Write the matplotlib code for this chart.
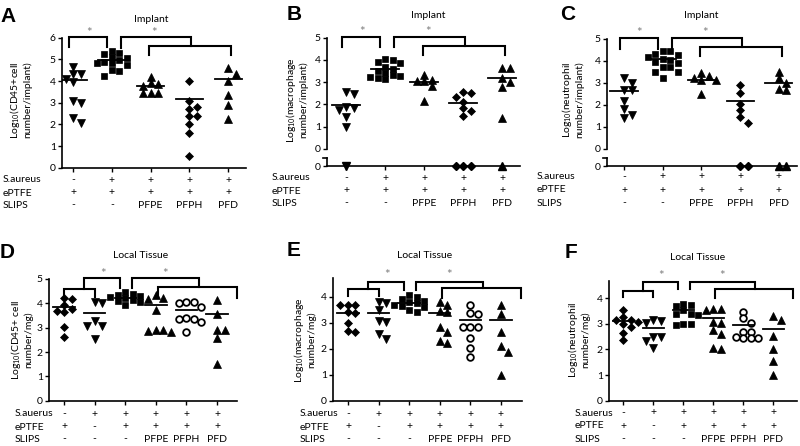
import matplotlib.pyplot as plt
from matplotlib.transforms import blended_transform_factory

plt.rcParams['font.family'] = ['Lato', 'DejaVu Sans']
plt.rcParams['mathtext.default'] = 'regular'

W, H = 800, 446
fig = plt.figure(figsize=(W / 100, H / 100), dpi=100)

# ---- data (log10 values) ----
a_vals = [[4.66, 4.32, 4.32, 4.08, 3.97, 3.09, 3.0, 2.28, 2.08],
          [5.4, 5.31, 5.25, 5.1, 5.05, 4.97, 4.9, 4.82, 4.82, 4.74, 4.51, 4.48, 4.25],
          [4.2, 3.89, 3.85, 3.77, 3.46, 3.46, 3.43],
          [4.0, 3.09, 2.82, 2.71, 2.38, 2.38, 2.02, 1.58, 0.54],
          [4.58, 4.31, 4.0, 3.35, 2.89, 2.23]]
a_line = [4.05, 4.97, 3.78, 3.15, 4.08]

b_vals = [[2.54, 2.46, 1.87, 1.83, 1.75, 1.42, 1.0],
          [4.03, 3.98, 3.92, 3.85, 3.7, 3.6, 3.5, 3.4, 3.33, 3.3, 3.25, 3.2, 3.13],
          [3.32, 3.1, 3.07, 3.05, 2.83, 2.17],
          [2.57, 2.5, 2.35, 2.13, 1.83, 1.71, 1.48],
          [3.62, 3.62, 3.17, 3.02, 2.8, 1.38]]
b_zero = [1, 0, 0, 3, 1]
b_line = [1.98, 3.6, 3.02, 2.05, 3.2]

c_vals = [[3.21, 2.98, 2.68, 2.68, 2.2, 1.82, 1.55, 1.39],
          [4.47, 4.45, 4.32, 4.25, 4.2, 4.1, 4.05, 3.94, 3.9, 3.71, 3.71, 3.48, 3.48, 3.21],
          [3.44, 3.3, 3.21, 3.14, 3.14, 2.5],
          [2.91, 2.53, 2.05, 1.77, 1.44, 1.2],
          [3.52, 3.24, 3.02, 2.71, 2.68]]
c_zero = [0, 0, 0, 2, 2]
c_line = [2.65, 4.08, 3.14, 2.18, 3.02]

d_vals = [[4.2, 4.16, 3.93, 3.75, 3.7, 3.66, 3.04, 2.63],
          [4.04, 4.0, 3.29, 3.07, 3.07, 2.52],
          [4.45, 4.4, 4.35, 4.3, 4.25, 4.2, 4.15, 4.1, 4.05, 3.95],
          [4.34, 4.2, 4.16, 3.73, 2.9, 2.9, 2.85, 2.84],
          [4.07, 4.07, 4.03, 3.84, 3.38, 3.34, 3.34, 3.25, 2.84],
          [4.14, 3.56, 2.9, 2.9, 2.56, 1.49]]
d_line = [3.86, 3.62, 4.22, 3.93, 3.73, 3.55]

e_vals = [[3.68, 3.68, 3.68, 3.42, 3.38, 2.97, 2.69, 2.65],
          [3.81, 3.74, 3.49, 3.08, 3.04, 2.56, 2.36],
          [4.05, 4.0, 3.9, 3.85, 3.8, 3.75, 3.7, 3.65, 3.6, 3.5, 3.4],
          [3.81, 3.68, 3.46, 3.42, 2.82, 2.65, 2.29, 2.21],
          [3.68, 3.38, 3.33, 2.82, 2.82, 2.82, 2.4, 2.01, 1.67],
          [3.68, 3.33, 2.65, 2.1, 1.88, 0.99]]
e_line = [3.38, 3.38, 3.74, 3.36, 3.1, 3.1]

f_vals = [[3.55, 3.26, 3.15, 3.13, 3.06, 3.0, 2.89, 2.63, 2.36],
          [3.16, 3.1, 3.02, 2.5, 2.47, 2.34, 2.05],
          [3.79, 3.72, 3.68, 3.55, 3.39, 3.39, 3.33, 3.0, 3.0, 2.97],
          [3.59, 3.59, 3.52, 3.06, 3.02, 2.76, 2.6, 2.05, 2.03],
          [3.46, 3.22, 3.02, 2.69, 2.67, 2.47, 2.43, 2.43, 2.43],
          [3.29, 3.13, 2.53, 2.01, 1.54, 0.99]]
f_line = [3.09, 2.83, 3.52, 3.22, 2.96, 2.8]

top_markers = ['v', 's', '^', 'D', '^']
bot_markers = ['D', 'v', 's', '^', 'o', '^']

top_rows = ['S.aureus', 'ePTFE', 'SLIPS']
top_cells = [['-', '+', '+', '+', '+'],
             ['+', '+', '+', '+', '+'],
             ['-', '-', 'PFPE', 'PFPH', 'PFD']]
bot_rows = ['S.auerus', 'ePTFE', 'SLIPS']
bot_cells = [['-', '+', '+', '+', '+', '+'],
             ['+', '-', '+', '+', '+', '+'],
             ['-', '-', '-', 'PFPE', 'PFPH', 'PFD']]

MS = {'v': 5.3, '^': 5.3, 's': 4.8, 'D': 4.2, 'o': 4.8}


def add_ax(x0, x1, ytop, ybot):
    return fig.add_axes([x0 / W, 1 - ybot / H, (x1 - x0) / W, (ybot - ytop) / H])


def style(ax, bottom=True):
    ax.patch.set_visible(False)
    ax.spines['top'].set_visible(False)
    ax.spines['right'].set_visible(False)
    ax.spines['left'].set_linewidth(1.2)
    ax.spines['bottom'].set_linewidth(1.2)
    ax.tick_params(length=3, width=1, labelsize=7.5, pad=1.5)
    if not bottom:
        ax.spines['bottom'].set_visible(False)
        ax.set_xticks([])


def swarm(vals, ax, w=7.5, hgt=6.0):
    pos = ax.get_position()
    y0, y1 = ax.get_ylim()
    x0, x1 = ax.get_xlim()
    ky = pos.height * H / (y1 - y0)
    kx = pos.width * W / (x1 - x0)
    order = sorted(range(len(vals)), key=lambda j: -vals[j])
    placed = []
    offs = [0.0] * len(vals)
    for j in order:
        y = vals[j] * ky
        for c in [0, 1, -1, 2, -2, 3, -3, 4, -4]:
            x = c * w
            if all(abs(x - px) >= w - 0.1 or abs(y - py) >= hgt for px, py in placed):
                break
        placed.append((x, y))
        offs[j] = x / kx
    return offs


def draw_points(ax, vals, lines, markers):
    for i, (v, m) in enumerate(zip(vals, markers)):
        offs = swarm(v, ax)
        face = 'white' if m == 'o' else 'black'
        ax.plot([i + o for o in offs], v, m, ls='none', ms=MS[m], mfc=face,
                mec='black', mew=1.3 if m == 'o' else 0.5, clip_on=False)
        ax.plot([i - 0.35, i + 0.35], [lines[i], lines[i]], color='black', lw=1.3)


def bracket(ax, xs, ys):
    ax.plot(xs, ys, color='black', lw=1.5, clip_on=False, solid_joinstyle='miter')


def star(ax, x, y):
    ax.text(x, y, '*', ha='center', va='center', fontsize=9.5, color='#808080')


def rows(ax, names, cells, lab_x, ys):
    tr = blended_transform_factory(ax.transData, fig.transFigure)
    for name, row, y in zip(names, cells, ys):
        fig.text(lab_x / W, 1 - y / H, name, ha='left', va='center', fontsize=7.5)
        for i, c in enumerate(row):
            ax.text(i, 1 - y / H, c, transform=tr, ha='center', va='center', fontsize=7.5)


def fig_text(x, y, s, **kw):
    fig.text(x / W, 1 - y / H, s, **kw)


# ---------------- Panel A ----------------
axA = add_ax(62, 246, 37.7, 167.7)
axA.set_ylim(0, 6)
axA.set_xlim(-0.284, 4.459)
style(axA)
axA.set_yticks(range(7))
axA.set_xticks(range(5))
axA.set_xticklabels([])
draw_points(axA, a_vals, a_line, top_markers)
bracket(axA, [-0.1, -0.1, 0.88, 0.88], [5.55, 6.03, 6.03, 5.55])
bracket(axA, [1.24, 1.24, 3.05, 3.05], [5.52, 6.03, 6.03, 5.63])
bracket(axA, [1.96, 1.96, 4.08, 4.08], [5.2, 5.63, 5.63, 5.2])
star(axA, 0.4, 6.22)
star(axA, 2.1, 6.22)
rows(axA, top_rows, top_cells, 3, [180, 193, 205])


# ---------------- Panels B, C (broken axis) ----------------
def broken(x0, x1, ytop, xlim, vals, zeros, lines, brk, lab_x, ys):
    up = add_ax(x0, x1, ytop, 149)
    up.set_ylim(0, 5)
    up.set_xlim(*xlim)
    style(up, bottom=False)
    up.set_yticks(range(6))
    lo = add_ax(x0, x1, 158, 166)
    lo.set_ylim(0, 1)
    lo.set_xlim(*xlim)
    style(lo)
    lo.set_yticks([0])
    lo.set_xticks(range(5))
    lo.set_xticklabels([])
    cap = 4 / (x1 - x0)
    lo.plot([-cap, 0], [1, 1], color='black', lw=1.2, transform=lo.transAxes, clip_on=False)
    draw_points(up, vals, lines, top_markers)
    for i, n in enumerate(zeros):
        if n:
            offs = swarm([0.0] * n, lo)
            m = top_markers[i]
            lo.plot([i + o for o in offs], [0] * n, m, ls='none', ms=MS[m], color='black', clip_on=False)
    top, leg, mid, low, st = brk
    bracket(up, [-0.1, -0.1, 0.88, 0.88], [leg, top, top, leg])
    bracket(up, [1.24, 1.24, 3.05, 3.05], [leg, top, top, mid])
    bracket(up, [1.96, 1.96, 4.08, 4.08], [low, mid, mid, low])
    star(up, 0.4, st)
    star(up, 2.1, st)
    rows(lo, top_rows, top_cells, lab_x, ys)


broken(327, 520, 37.7, (-0.49, 4.46), b_vals, b_zero, b_line,
       (5.02, 4.6, 4.64, 4.22, 5.25), 272, [178, 191, 203])
broken(607, 797, 39, (-0.44, 4.47), c_vals, c_zero, c_line,
       (5.03, 4.55, 4.62, 4.23, 5.27), 537, [177, 190, 203])


# ---------------- Panels D, E, F ----------------
def lower(x0, x1, ytop, ymax, xlim, vals, lines, brk, sx, lab_x, ys):
    ax = add_ax(x0, x1, ytop, 400.7)
    ax.set_ylim(0, ymax)
    ax.set_xlim(*xlim)
    style(ax)
    ax.set_yticks(range(int(ymax) + 1))
    ax.set_xticks(range(6))
    ax.set_xticklabels([])
    draw_points(ax, vals, lines, bot_markers)
    L0, L1, U, Ud, M, R0, st = brk
    bracket(ax, [0, 0, 1, 1], [L0, L1, L1, L0])
    bracket(ax, [0.66, 0.66, 1.84, 1.84], [L1, U, U, Ud])
    bracket(ax, [2.22, 2.22, 4.4, 4.4], [Ud, U, U, M])
    bracket(ax, [3.07, 3.07, 5.65, 5.65], [R0, M, M, R0])
    star(ax, sx[0], st)
    star(ax, sx[1], st)
    rows(ax, bot_rows, bot_cells, lab_x, ys)
    return ax


lower(49, 237, 279, 5, (-0.49, 5.65), d_vals, d_line,
      (4.27, 4.58, 5.03, 4.62, 4.68, 4.21, 5.2), (1.26, 3.3), 15, [414, 427, 439])
lower(333, 522, 278, 4.72, (-0.49, 5.69), e_vals, e_line,
      (4.03, 4.28, 4.58, 4.26, 4.32, 3.94, 4.83), (1.26, 3.3), 300, [414, 427, 439])
lower(609, 797, 281, 4.67, (-0.47, 5.8), f_vals, f_line,
      (4.03, 4.29, 4.65, 4.34, 4.34, 3.99, 4.87), (1.27, 3.29), 575, [413, 426, 439])

# titles, y labels and panel letters
for x, y, t in [(151, 19, 'Implant'), (428, 16, 'Implant'), (701, 15, 'Implant'),
                (141, 256, 'Local Tissue'), (425, 256, 'Local Tissue'), (698, 258, 'Local Tissue')]:
    fig_text(x, y, t, ha='center', va='center', fontsize=7.5)

for x, y, t in [(20, 100, 'Log$_{10}$(CD45+cell\nnumber/implant)'),
                (296, 100, 'Log$_{10}$(macrophage\nnumber/implant)'),
                (572, 100, 'Log$_{10}$(neutrophil\nnumber/implant)'),
                (21, 340, 'Log$_{10}$(CD45+ cell\nnumber/mg)'),
                (304, 340, 'Log$_{10}$(macrophage\nnumber/mg)'),
                (578, 340, 'Log$_{10}$(neutrophil\nnumber/mg)')]:
    fig_text(x, y, t, ha='center', va='center', rotation=90, fontsize=7.5,
             multialignment='center', linespacing=1.1)

for x, y, t in [(0, 16, 'A'), (287, 14, 'B'), (560, 14, 'C'),
                (0, 252, 'D'), (287, 251, 'E'), (565, 252, 'F')]:
    fig_text(x, y, t, ha='left', va='center', fontsize=15, fontweight='bold',
             family=['Liberation Sans', 'DejaVu Sans'])

fig.savefig('out.png', dpi=100)
